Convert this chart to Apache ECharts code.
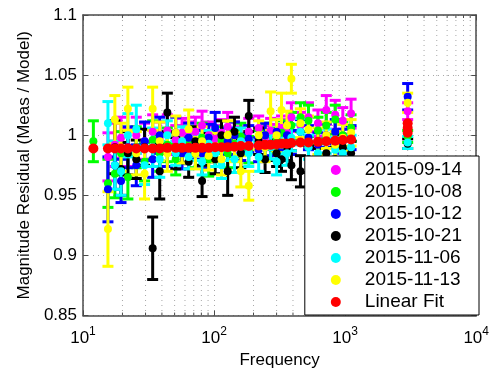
<!DOCTYPE html>
<html>
<head>
<meta charset="utf-8">
<script src="https://cdn.jsdelivr.net/npm/echarts@6/dist/echarts.min.js"></script>
<style>
  html, body { margin: 0; padding: 0; background: #fff; }
  #chart { width: 492px; height: 374px; }
</style>
</head>
<body>
<div id="chart"></div>
<script>
// Measurement frequencies (Hz) shared by all dates
const freqs = [12, 15.5, 17.5, 19.5, 22, 25.5, 29.5, 34, 38.5, 44, 51, 57, 64, 72, 81, 91, 102, 114,
  127, 143, 160, 184, 219, 245, 270, 300, 327, 360, 389, 456, 525, 620, 718, 840, 960, 1110, 3000];

const dates = ['2015-09-14', '2015-10-08', '2015-10-12', '2015-10-21', '2015-11-06', '2015-11-13'];

// Residual (Meas / Model) and one-sigma uncertainty per date
const res0914 = [null, 0.982, 0.992, 0.998, 0.990, 1.000, 0.995, 1.003, 0.998, 1.004, 0.996, 1.002, 0.999, 1.003,
  1.008, 1.000, 0.997, 1.002, 1.007, 1.000, 0.996, 1.003, 1.006, 0.998, 1.004, 0.999, 1.006, 1.002, 1.015,
  1.008, 1.015, 1.010, 1.021, 1.017, 1.012, 1.018, 1.020];
const err0914 = [null, 0.020, 0.018, 0.017, 0.016, 0.015, 0.015, 0.014, 0.013, 0.013, 0.012, 0.012, 0.012, 0.012,
  0.012, 0.011, 0.011, 0.011, 0.012, 0.011, 0.011, 0.011, 0.010, 0.010, 0.010, 0.010, 0.010, 0.011, 0.012,
  0.011, 0.012, 0.011, 0.012, 0.012, 0.011, 0.012, 0.007];

const res1008 = [0.995, 0.960, 0.968, 0.985, 0.965, 0.990, 0.978, 0.996, 0.985, 0.992, 0.980, 0.990, 0.995, 0.985,
  0.998, 0.980, 0.990, 0.996, 0.985, 0.993, 0.999, 0.988, 0.994, 1.000, 0.990, 0.996, 1.002, 0.995, 1.008,
  1.015, 1.012, 1.004, 1.008, 1.013, 1.000, 1.006, 0.999];
const err1008 = [0.017, 0.020, 0.020, 0.018, 0.018, 0.017, 0.016, 0.016, 0.015, 0.014, 0.013, 0.013, 0.012, 0.012,
  0.012, 0.014, 0.012, 0.011, 0.012, 0.011, 0.011, 0.011, 0.010, 0.010, 0.010, 0.010, 0.010, 0.010, 0.011,
  0.012, 0.013, 0.011, 0.011, 0.012, 0.011, 0.011, 0.005];

const res1012 = [null, 0.955, 0.975, 0.962, 0.990, 0.975, 0.995, 0.980, 1.000, 0.988, 1.002, 0.985, 0.998, 0.992,
  0.985, 0.998, 1.006, 0.990, 0.995, 1.000, 0.990, 0.997, 0.988, 1.000, 0.993, 1.003, 0.990, 1.000, 0.994,
  1.003, 0.998, 0.992, 1.000, 1.003, 0.995, 0.998, 1.032];
const err1012 = [null, 0.027, 0.020, 0.018, 0.017, 0.017, 0.016, 0.015, 0.015, 0.014, 0.013, 0.013, 0.012, 0.012,
  0.012, 0.011, 0.013, 0.011, 0.011, 0.011, 0.011, 0.011, 0.010, 0.010, 0.010, 0.010, 0.010, 0.010, 0.010,
  0.010, 0.010, 0.010, 0.010, 0.010, 0.010, 0.010, 0.011];

const res1021 = [null, null, 0.990, 0.972, 0.985, 0.980, 0.990, 0.906, 0.970, 1.019, 0.985, 0.990, 0.978, 0.995,
  0.962, 0.990, 0.980, 1.000, 0.970, 1.003, 0.985, 1.016, 0.995, 0.980, 0.990, 0.985, 0.980, 0.990, 0.975,
  0.970, 0.980, 0.978, 0.985, 0.980, 0.990, 0.985, 0.993];
const err1021 = [null, null, 0.022, 0.022, 0.018, 0.016, 0.015, 0.026, 0.023, 0.016, 0.013, 0.013, 0.013, 0.012,
  0.013, 0.012, 0.012, 0.012, 0.020, 0.012, 0.012, 0.013, 0.011, 0.011, 0.011, 0.011, 0.010, 0.011, 0.012,
  0.013, 0.011, 0.011, 0.010, 0.010, 0.010, 0.010, 0.004];

const res1106 = [null, 1.010, 0.975, 0.970, 1.000, 1.005, 0.975, 0.990, 0.980, 1.000, 0.985, 0.995, 0.982, 0.990,
  0.978, 0.993, 0.985, 0.975, 0.990, 0.980, 0.995, 0.985, 0.982, 0.990, 0.990, 0.978, 0.992, 0.985, 0.998,
  1.003, 0.990, 0.985, 0.995, 0.988, 0.985, 0.990, 0.994];
const err1106 = [null, 0.018, 0.020, 0.020, 0.018, 0.020, 0.016, 0.016, 0.015, 0.012, 0.010, 0.012, 0.010, 0.011,
  0.011, 0.011, 0.011, 0.011, 0.011, 0.011, 0.011, 0.011, 0.012, 0.011, 0.010, 0.011, 0.010, 0.010, 0.011,
  0.011, 0.010, 0.010, 0.010, 0.010, 0.010, 0.010, 0.005];

const res1113 = [null, 0.922, 1.013, 0.990, 1.022, 0.985, 0.968, 1.022, 0.995, 0.985, 1.002, 0.990, 1.005, 0.985,
  0.995, 0.983, 0.990, 0.980, 1.000, 0.990, 0.970, 0.958, 1.000, 0.990, 1.020, 1.000, 1.021, 1.008, 1.047,
  1.010, 1.005, 0.995, 1.000, 0.992, 0.998, 1.002, 1.027];
const err1113 = [null, 0.031, 0.020, 0.020, 0.018, 0.018, 0.021, 0.018, 0.016, 0.015, 0.014, 0.013, 0.016, 0.013,
  0.012, 0.012, 0.012, 0.013, 0.012, 0.012, 0.013, 0.012, 0.012, 0.012, 0.016, 0.013, 0.014, 0.012, 0.012,
  0.012, 0.011, 0.011, 0.011, 0.011, 0.011, 0.011, 0.008];

// Linear fit evaluated at the measurement frequencies
const fitFreqs = [12, 15.5, 17.5, 19.5, 22, 25.5, 29.5, 34, 38.5, 44, 51, 57, 64, 72, 81, 91, 102, 114,
  127, 143, 160, 184, 219, 245, 270, 300, 327, 360, 389, 456, 525, 620, 718, 840, 960, 1110, 3000, 3000, 3000];
const fitVals = [0.989, 0.989, 0.989, 0.989, 0.989, 0.989, 0.989, 0.989, 0.989, 0.9895, 0.9895, 0.9895, 0.9895,
  0.9895, 0.9895, 0.9895, 0.990, 0.990, 0.990, 0.9905, 0.991, 0.991, 0.9915, 0.992, 0.992, 0.9925, 0.993,
  0.993, 0.9935, 0.994, 0.994, 0.9945, 0.995, 0.9955, 0.996, 0.9965, 1.002, 1.006, 1.010];

// Axis ranges and tick values
const freqMin = 10, freqMax = 10000;
const resMin = 0.85, resMax = 1.1, resStep = 0.05;
const minorFreqs = [20, 30, 40, 50, 60, 70, 80, 90, 200, 300, 400, 500, 600, 700, 800, 900,
  2000, 3000, 4000, 5000, 6000, 7000, 8000, 9000];

const seriesSets = [
  { name: dates[0], res: res0914, err: err0914, color: '#ff00ff' },
  { name: dates[1], res: res1008, err: err1008, color: '#00ff00' },
  { name: dates[2], res: res1012, err: err1012, color: '#0000ff' },
  { name: dates[3], res: res1021, err: err1021, color: '#000000' },
  { name: dates[4], res: res1106, err: err1106, color: '#00ffff' },
  { name: dates[5], res: res1113, err: err1113, color: '#ffff00' }
];

const FONT = 'Liberation Sans, Arial, Helvetica, sans-serif';
const FRAME = '#4a4a4a';
const GRIDC = '#a8a8a8';

function renderErrorBar(params, api) {
  const f = api.value(0), v = api.value(1), e = api.value(2);
  const top = api.coord([f, v + e]);
  const bot = api.coord([f, v - e]);
  const half = 5.5;
  const color = api.visual('color');
  const mk = (x1, y1, x2, y2) => ({
    type: 'line',
    shape: { x1, y1, x2, y2 },
    style: { stroke: color, lineWidth: 3 }
  });
  return {
    type: 'group',
    children: [
      mk(top[0], top[1], bot[0], bot[1]),
      mk(top[0] - half, top[1], top[0] + half, top[1]),
      mk(bot[0] - half, bot[1], bot[0] + half, bot[1])
    ]
  };
}

// Dotted minor grid plus minor ticks on the log frequency axis
function renderMinorGrid(params, api) {
  const cs = params.coordSys;
  const x = api.coord([api.value(0), resMin])[0];
  const yTop = cs.y, yBot = cs.y + cs.height;
  return {
    type: 'group',
    children: [
      { type: 'line', shape: { x1: x, y1: yTop, x2: x, y2: yBot },
        style: { stroke: GRIDC, lineWidth: 1, lineDash: [1, 4] } },
      { type: 'line', shape: { x1: x, y1: yBot, x2: x, y2: yBot - 3 },
        style: { stroke: FRAME, lineWidth: 1 } },
      { type: 'line', shape: { x1: x, y1: yTop, x2: x, y2: yTop + 3 },
        style: { stroke: FRAME, lineWidth: 1 } }
    ]
  };
}

const series = [{
  type: 'custom',
  name: 'minor grid',
  silent: true,
  z: 1,
  renderItem: renderMinorGrid,
  data: minorFreqs.map(f => [f, 1])
}];

seriesSets.forEach(s => {
  const pts = freqs.map((f, i) => s.res[i] == null ? null : [f, s.res[i], s.err[i]]).filter(Boolean);
  series.push({
    type: 'custom',
    name: s.name,
    itemStyle: { color: s.color, opacity: 1 },
    renderItem: renderErrorBar,
    encode: { x: 0, y: 1 },
    data: pts
  });
  series.push({
    type: 'scatter',
    name: s.name,
    symbol: 'circle',
    symbolSize: 8,
    itemStyle: { color: s.color, opacity: 1 },
    data: pts.map(p => [p[0], p[1]])
  });
});

series.push({
  type: 'scatter',
  name: 'Linear Fit',
  symbol: 'circle',
  symbolSize: 10,
  itemStyle: { color: '#ff0000', opacity: 1 },
  data: fitFreqs.map((f, i) => [f, fitVals[i]])
});

const axisLineStyle = { show: true, lineStyle: { color: FRAME, width: 1.5 } };
const tickStyle = { show: true, inside: true, length: 5, lineStyle: { color: FRAME } };
const dotted = { show: true, lineStyle: { color: GRIDC, type: [1, 4], width: 1 } };

const chart = echarts.init(document.getElementById('chart'), null, { renderer: 'canvas' });
chart.setOption({
  animation: false,
  backgroundColor: '#fff',
  textStyle: { fontFamily: FONT },
  grid: { left: 83, right: 13, top: 15, bottom: 51, containLabel: false },
  xAxis: [{
    type: 'log',
    logBase: 10,
    min: freqMin,
    max: freqMax,
    position: 'bottom',
    name: 'Frequency',
    nameLocation: 'middle',
    nameGap: 31,
    nameTextStyle: { fontSize: 17, color: '#000', fontFamily: FONT },
    axisLine: axisLineStyle,
    axisTick: tickStyle,
    splitLine: dotted,
    axisLabel: {
      margin: 10,
      color: '#000',
      formatter: v => '{b|10}{s|' + Math.round(Math.log10(v)) + '}',
      rich: {
        b: { fontSize: 17, fontFamily: FONT, color: '#000' },
        s: { fontSize: 12, fontFamily: FONT, color: '#000', padding: [0, 0, 14, 0] }
      }
    }
  }, {
    type: 'log',
    logBase: 10,
    min: freqMin,
    max: freqMax,
    position: 'top',
    axisLine: axisLineStyle,
    axisTick: tickStyle,
    axisLabel: { show: false },
    splitLine: { show: false }
  }],
  yAxis: [{
    type: 'value',
    min: resMin,
    max: resMax,
    interval: resStep,
    position: 'left',
    name: 'Magnitude Residual (Meas / Model)',
    nameLocation: 'middle',
    nameGap: 42,
    nameTextStyle: { fontSize: 17, color: '#000', fontFamily: FONT },
    axisLine: axisLineStyle,
    axisTick: tickStyle,
    splitLine: dotted,
    axisLabel: { fontSize: 17, color: '#000', margin: 6, fontFamily: FONT }
  }, {
    type: 'value',
    min: resMin,
    max: resMax,
    interval: resStep,
    position: 'right',
    axisLine: axisLineStyle,
    axisTick: tickStyle,
    axisLabel: { show: false },
    splitLine: { show: false }
  }],
  legend: {
    data: dates.concat(['Linear Fit']),
    orient: 'vertical',
    right: 13,
    top: 156,
    icon: 'circle',
    itemWidth: 10,
    itemHeight: 10,
    itemGap: 2,
    padding: [4, 17, 3, 26],
    backgroundColor: '#fff',
    borderColor: '#000',
    borderWidth: 1,
    borderRadius: 0,
    selectedMode: false,
    textStyle: { fontSize: 19, lineHeight: 20, color: '#000', fontFamily: FONT, padding: [0, 0, 0, 19] }
  },
  series
});
</script>
</body>
</html>
